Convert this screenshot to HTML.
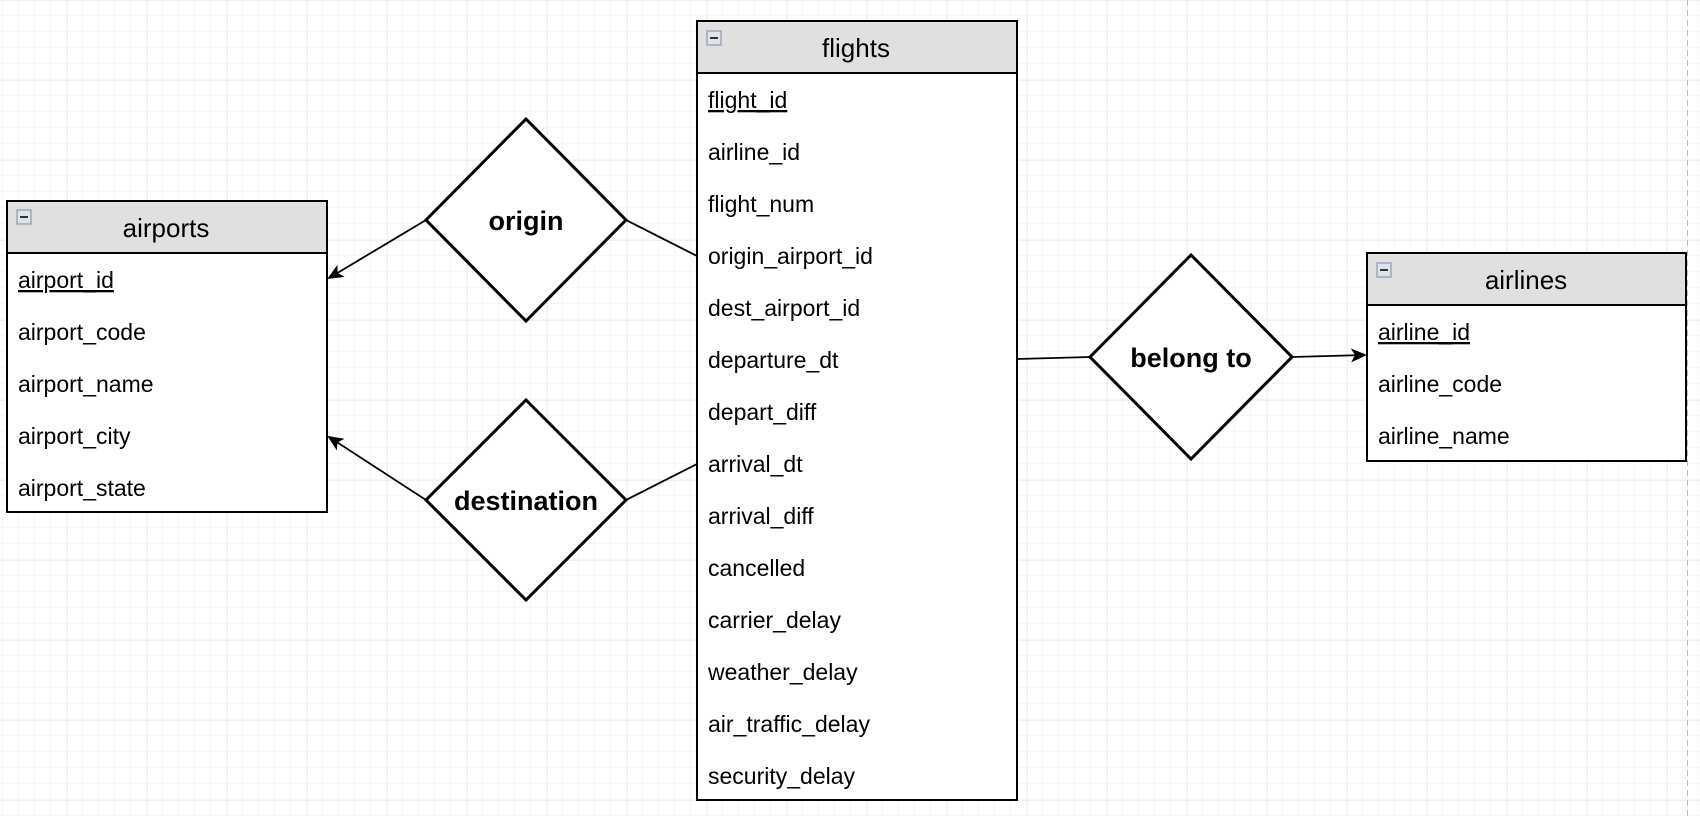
<!DOCTYPE html>
<html><head><meta charset="utf-8"><style>
html,body{margin:0;padding:0;background:#fff;}
svg{display:block;}
text{font-family:"Liberation Sans",sans-serif;fill:#000;}
.r{font-size:23px;}
.h{font-size:26px;}
.d{font-size:27px;font-weight:bold;}
</style></head><body>
<svg width="1700" height="816" viewBox="0 0 1700 816" xmlns="http://www.w3.org/2000/svg">
<defs>
<pattern id="minor" width="16" height="16" patternUnits="userSpaceOnUse" x="3" y="0">
<path d="M16 0V16M0 16H16" stroke="#efefef" stroke-width="1" fill="none"/>
</pattern>
<pattern id="major" width="80" height="80" patternUnits="userSpaceOnUse" x="67" y="0">
<path d="M0 0V80M0 0H80" stroke="#e0e0e0" stroke-width="1" fill="none"/>
</pattern>
<marker id="ar" markerWidth="16" markerHeight="16" refX="14" refY="8" orient="auto" markerUnits="userSpaceOnUse">
<path d="M0 1L16 8L0 15L4 8Z" fill="#000"/>
</marker>
</defs>
<rect width="1700" height="816" fill="url(#minor)"/>
<rect width="1700" height="816" fill="url(#major)"/>
<line x1="1687.5" y1="0" x2="1687.5" y2="816" stroke="#bbb" stroke-dasharray="6,4"/>

<g stroke="#000" stroke-width="1.8" fill="none">
<line x1="426" y1="220" x2="329" y2="278" marker-end="url(#ar)"/>
<line x1="626" y1="220" x2="697" y2="256"/>
<line x1="426" y1="500" x2="329" y2="437" marker-end="url(#ar)"/>
<line x1="626" y1="500" x2="697" y2="464"/>
<line x1="1017" y1="359" x2="1090" y2="357"/>
<line x1="1292" y1="357" x2="1365" y2="355" marker-end="url(#ar)"/>
</g>

<rect x="7" y="201" width="320" height="311" fill="#fff" stroke="#000" stroke-width="2"/>
<rect x="7" y="201" width="320" height="52" fill="#e0e0e0" stroke="#000" stroke-width="2"/>
<rect x="17" y="210" width="14" height="14" fill="#dfe4ea" stroke="#7a8aa0" stroke-width="1"/>
<rect x="20" y="216" width="8" height="2" fill="#333"/>
<text class="h" x="166" y="237" text-anchor="middle">airports</text>
<text class="r" x="18" y="288" text-decoration="underline">airport_id</text>
<text class="r" x="18" y="340">airport_code</text>
<text class="r" x="18" y="392">airport_name</text>
<text class="r" x="18" y="444">airport_city</text>
<text class="r" x="18" y="496">airport_state</text>

<rect x="697" y="21" width="320" height="779" fill="#fff" stroke="#000" stroke-width="2"/>
<rect x="697" y="21" width="320" height="52" fill="#e0e0e0" stroke="#000" stroke-width="2"/>
<rect x="707" y="31" width="14" height="14" fill="#dfe4ea" stroke="#7a8aa0" stroke-width="1"/>
<rect x="710" y="37" width="8" height="2" fill="#333"/>
<text class="h" x="856" y="57" text-anchor="middle">flights</text>
<text class="r" x="708" y="108" text-decoration="underline">flight_id</text>
<text class="r" x="708" y="160">airline_id</text>
<text class="r" x="708" y="212">flight_num</text>
<text class="r" x="708" y="264">origin_airport_id</text>
<text class="r" x="708" y="316">dest_airport_id</text>
<text class="r" x="708" y="368">departure_dt</text>
<text class="r" x="708" y="420">depart_diff</text>
<text class="r" x="708" y="472">arrival_dt</text>
<text class="r" x="708" y="524">arrival_diff</text>
<text class="r" x="708" y="576">cancelled</text>
<text class="r" x="708" y="628">carrier_delay</text>
<text class="r" x="708" y="680">weather_delay</text>
<text class="r" x="708" y="732">air_traffic_delay</text>
<text class="r" x="708" y="784">security_delay</text>

<rect x="1367" y="253" width="319" height="208" fill="#fff" stroke="#000" stroke-width="2"/>
<rect x="1367" y="253" width="319" height="52" fill="#e0e0e0" stroke="#000" stroke-width="2"/>
<rect x="1377" y="263" width="14" height="14" fill="#dfe4ea" stroke="#7a8aa0" stroke-width="1"/>
<rect x="1380" y="269" width="8" height="2" fill="#333"/>
<text class="h" x="1526" y="289" text-anchor="middle">airlines</text>
<text class="r" x="1378" y="340" text-decoration="underline">airline_id</text>
<text class="r" x="1378" y="392">airline_code</text>
<text class="r" x="1378" y="444">airline_name</text>

<g fill="#fff" stroke="#000" stroke-width="3">
<polygon points="526,119 626,220 526,321 426,220"/>
<polygon points="526,400 626,500 526,600 426,500"/>
<polygon points="1191,255 1292,357 1191,459 1090,357"/>
</g>
<text class="d" x="526" y="230" text-anchor="middle">origin</text>
<text class="d" x="526" y="510" text-anchor="middle">destination</text>
<text class="d" x="1191" y="367" text-anchor="middle">belong to</text>
</svg>
</body></html>
